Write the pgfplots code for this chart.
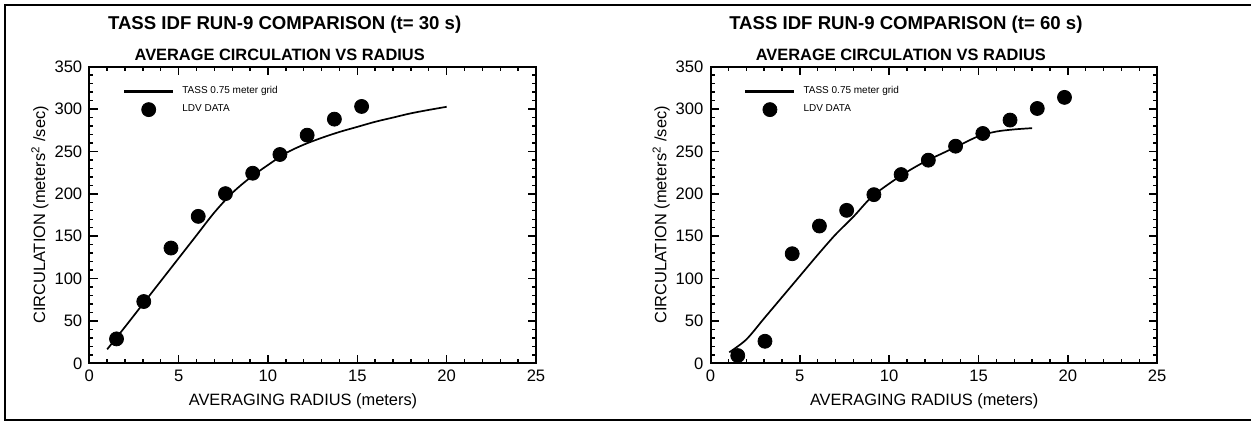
\documentclass[border=0pt]{standalone}
\usepackage{fontspec}
\setmainfont{Liberation Sans}
\usepackage{pgfplots}
\pgfplotsset{compat=1.18}

% shared look of both panels
\pgfplotsset{
  tass/.style={
    scale only axis, width=223.35pt, height=148.3pt,
    xmin=0, xmax=25, ymin=0, ymax=350,
    xtick={0,5,...,25}, ytick={0,50,...,350},
    minor x tick num=4, minor y tick num=4,
    tick align=inside, tick pos=both,
    major tick length=4.2pt, minor tick length=2pt,
    axis line style={line width=1pt},
    tick style={black, line width=0.7pt},
    /pgf/number format/assume math mode=true,
    tick label style={font=\fontsize{8.3}{10}\selectfont},
    label style={font=\fontsize{8.2}{10}\selectfont},
    xlabel={AVERAGING RADIUS (meters)},
    ylabel={CIRCULATION (meters\textsuperscript{2} /sec)},
    xlabel style={at={(axis description cs:0.4784,-0.1281)}, anchor=center},
    ylabel style={at={(axis description cs:-0.1104,0.5)}, anchor=center},
    legend cell align=left,
    legend style={draw=none, fill=none, inner sep=0pt,
      font=\fontsize{5}{6}\selectfont,
      at={(axis description cs:0.0748,0.935)}, anchor=north west,
      row sep=3pt, column sep=4pt,
      nodes={inner sep=0pt}},
  },
  tasscurve/.style={black, line width=0.85pt, smooth,
    legend image code/.code={\draw[##1, line width=1.1pt] (0pt,0pt) -- (24.5pt,0pt);}},
  ldvdots/.style={black, only marks, mark=*, mark size=3.5pt,
    legend image code/.code={\draw[##1] plot coordinates {(12.25pt,0pt)};}},
  titles/.style={extra description/.code={
    \node[font=\bfseries\fontsize{9.3}{11}\selectfont]
      at (axis description cs:0.4374,1.1406) {TASS IDF RUN-9 COMPARISON (t= #1 s)};
    \node[font=\bfseries\fontsize{8.2}{10}\selectfont]
      at (axis description cs:0.4262,1.0395) {AVERAGE CIRCULATION VS RADIUS};
  }},
}

\begin{document}
\begin{tikzpicture}
\useasboundingbox (-44.65pt,-29.35pt) rectangle (580.85pt,181.65pt);
\draw[line width=1pt] (580.85pt,179.15pt) -- (-42.15pt,179.15pt)
  -- (-42.15pt,-28.35pt) -- (580.85pt,-28.35pt);

% t = 30 s
\begin{axis}[tass, at={(0,0)}, titles=30]
\addplot[tasscurve] coordinates {
  (1.0,16.5) (2,43) (3,70) (4,97) (5,124) (6,151) (7,178) (8,201)
  (9,219) (10,234) (11,248) (12,258) (13,266) (14,273) (15,279)
  (16,285) (17,290) (18,295) (19,299) (20,302.7)
};
\addlegendentry{TASS 0.75 meter grid}
\addplot[ldvdots] coordinates {
  (1.524,28.8) (3.048,72.9) (4.572,136) (6.096,173.4) (7.62,200.2)
  (9.144,224.3) (10.668,246.4) (12.192,269.2) (13.716,288.1) (15.24,303.1)
};
\addlegendentry{LDV DATA}
\end{axis}

% t = 60 s
\begin{axis}[tass, at={(310.6pt,0)}, titles=60]
\addplot[tasscurve] coordinates {
  (1.05,13) (2,28) (3,53) (4,78) (5,103) (6,128) (7,152) (8,173)
  (9,196) (10,212) (11,226) (12,238) (13,248) (14,258) (15,268)
  (16,273.5) (17,276) (18,277.5)
};
\addlegendentry{TASS 0.75 meter grid}
\addplot[ldvdots] coordinates {
  (1.524,9.1) (3.048,26) (4.572,129.3) (6.096,162) (7.62,180.5)
  (9.144,199) (10.668,222.7) (12.192,239.7) (13.716,256.2) (15.24,271.2)
  (16.764,287) (18.288,300.7) (19.812,313.8)
};
\addlegendentry{LDV DATA}
\end{axis}
\end{tikzpicture}
\end{document}
